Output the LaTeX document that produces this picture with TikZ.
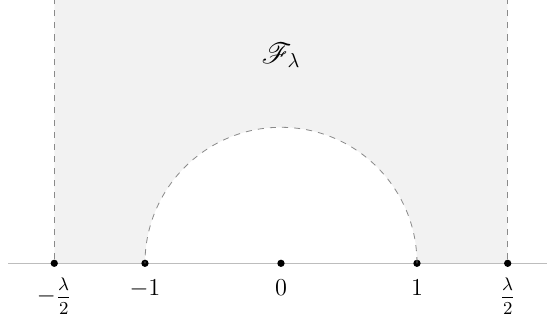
\documentclass[tikz,border=0pt]{standalone}
\usepackage{amsmath}
\usepackage{mathrsfs}
\usepackage{tikz}
\usetikzlibrary{positioning}
\definecolor{FDFill}{HTML}{F2F2F2}
\definecolor{FDDash}{HTML}{8A8A8A}
\definecolor{FDAxis}{HTML}{BDBDBD}

\begin{document}
\begin{tikzpicture}[x=2.36cm,y=2.36cm,
    dot/.style={circle,fill=black,inner sep=0pt,minimum size=3.6pt},
    bdry/.style={draw=FDDash,dashed,thin},
    lbl/.style={font=\large,inner sep=1pt},
    flbl/.style={font=\small,inner sep=1pt}
  ]
    \useasboundingbox (-2.066,-0.424) rectangle (1.956,1.936);
    % fundamental domain
    \fill[FDFill](-1.667,0)--(-1.667,1.936)--(1.667,1.936)--(1.667,0)
      --(1,0) arc (0:180:1)--cycle;
    \draw[FDAxis](-2.007,0)--(1.956,0);
    \node[dot](ML) at (-1.667,0) {};
    \node[dot](M1) at (-1,0) {};
    \node[dot](Z)  at (0,0) {};
    \node[dot](P1) at (1,0) {};
    \node[dot](PL) at (1.667,0) {};
    \coordinate (MLt) at (-1.667,1.936);
    \coordinate (PLt) at (1.667,1.936);
    \draw[bdry](ML)--(MLt);
    \draw[bdry](PL)--(PLt);
    \draw[bdry](P1.center) arc (0:180:1);
    \node[flbl,below=4pt of ML]{{\large$-$}$\dfrac{\lambda}{2}$};
    \node[lbl,below=5pt of M1]{$-1$};
    \node[lbl,below=5pt of Z] {$0$};
    \node[lbl,below=5pt of P1]{$1$};
    \node[flbl,below=4pt of PL]{$\dfrac{\lambda}{2}$};
    \node[font=\Large](F) at (0,1.53) {$\mathscr{F}_{\lambda}$};
  \end{tikzpicture}
\end{document}
